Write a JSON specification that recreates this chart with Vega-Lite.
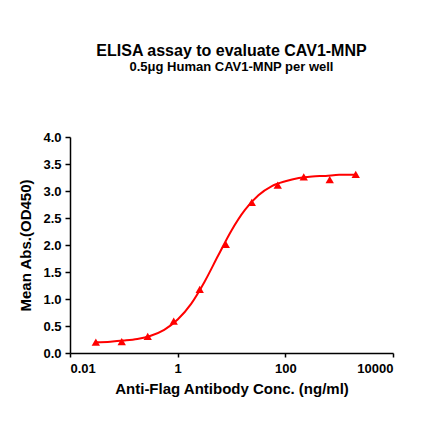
{
  "$schema": "https://vega.github.io/schema/vega-lite/v6.json",
  "autosize": {"type": "none"},
  "width": 323,
  "height": 216,
  "padding": {"left": 70, "top": 137, "right": 47, "bottom": 88},
  "background": "white",
  "title": {
    "text": "ELISA assay to evaluate CAV1-MNP",
    "subtitle": "0.5μg Human CAV1-MNP per well",
    "anchor": "middle",
    "frame": "group",
    "offset": 57,
    "font": "Liberation Sans",
    "fontSize": 16,
    "fontWeight": "bold",
    "subtitleFont": "Liberation Sans",
    "subtitleFontSize": 13,
    "subtitleFontWeight": "bold",
    "subtitleColor": "#000",
    "subtitlePadding": 2,
    "color": "#000"
  },
  "datasets": {
    "points": [
      {"conc": 0.0302, "od": 0.20},
      {"conc": 0.0914, "od": 0.21},
      {"conc": 0.278, "od": 0.31},
      {"conc": 0.845, "od": 0.59},
      {"conc": 2.57, "od": 1.18},
      {"conc": 7.82, "od": 2.01},
      {"conc": 23.8, "od": 2.79},
      {"conc": 72.3, "od": 3.11},
      {"conc": 220, "od": 3.26},
      {"conc": 668, "od": 3.21},
      {"conc": 2032, "od": 3.31}
    ],
    "curve": [
      {"conc": 0.0302, "od": 0.20},
      {"conc": 0.0562, "od": 0.21},
      {"conc": 0.1, "od": 0.23},
      {"conc": 0.178, "od": 0.26},
      {"conc": 0.316, "od": 0.32},
      {"conc": 0.562, "od": 0.43},
      {"conc": 1.0, "od": 0.62},
      {"conc": 1.778, "od": 0.91},
      {"conc": 3.162, "od": 1.32},
      {"conc": 5.623, "od": 1.80},
      {"conc": 10.0, "od": 2.27},
      {"conc": 17.78, "od": 2.65},
      {"conc": 31.62, "od": 2.92},
      {"conc": 56.23, "od": 3.09},
      {"conc": 100, "od": 3.18},
      {"conc": 177.8, "od": 3.24},
      {"conc": 316.2, "od": 3.27},
      {"conc": 562.3, "od": 3.28},
      {"conc": 1000, "od": 3.30},
      {"conc": 2042, "od": 3.30}
    ]
  },
  "encoding": {
    "x": {
      "field": "conc",
      "type": "quantitative",
      "scale": {"type": "log", "domain": [0.01, 10000], "nice": false},
      "axis": {
        "title": "Anti-Flag Antibody Conc. (ng/ml)",
        "values": [0.01, 1, 100, 10000],
        "format": "~g",
        "grid": false,
        "tickSize": 4,
        "labelPadding": 5,
        "titlePadding": 6
      }
    },
    "y": {
      "field": "od",
      "type": "quantitative",
      "scale": {"domain": [0, 4], "nice": false},
      "axis": {
        "title": "Mean Abs.(OD450)",
        "values": [0, 0.5, 1, 1.5, 2, 2.5, 3, 3.5, 4],
        "format": ".1f",
        "grid": false,
        "tickSize": 5,
        "labelPadding": 4,
        "titlePadding": 9
      }
    }
  },
  "layer": [
    {
      "data": {"name": "curve"},
      "mark": {"type": "line", "color": "#ff0000", "strokeWidth": 2, "interpolate": "monotone"}
    },
    {
      "data": {"name": "points"},
      "mark": {"type": "point", "shape": "triangle-up", "filled": true, "color": "#ff0000", "size": 70, "opacity": 1}
    }
  ],
  "config": {
    "view": {"stroke": null},
    "axis": {
      "domainColor": "#000",
      "tickColor": "#000",
      "domainWidth": 1.5,
      "tickWidth": 1.5,
      "labelFont": "Liberation Sans",
      "labelFontSize": 13,
      "labelFontWeight": "bold",
      "labelColor": "#000",
      "titleFont": "Liberation Sans",
      "titleFontSize": 15,
      "titleFontWeight": "bold",
      "titleColor": "#000"
    }
  }
}
